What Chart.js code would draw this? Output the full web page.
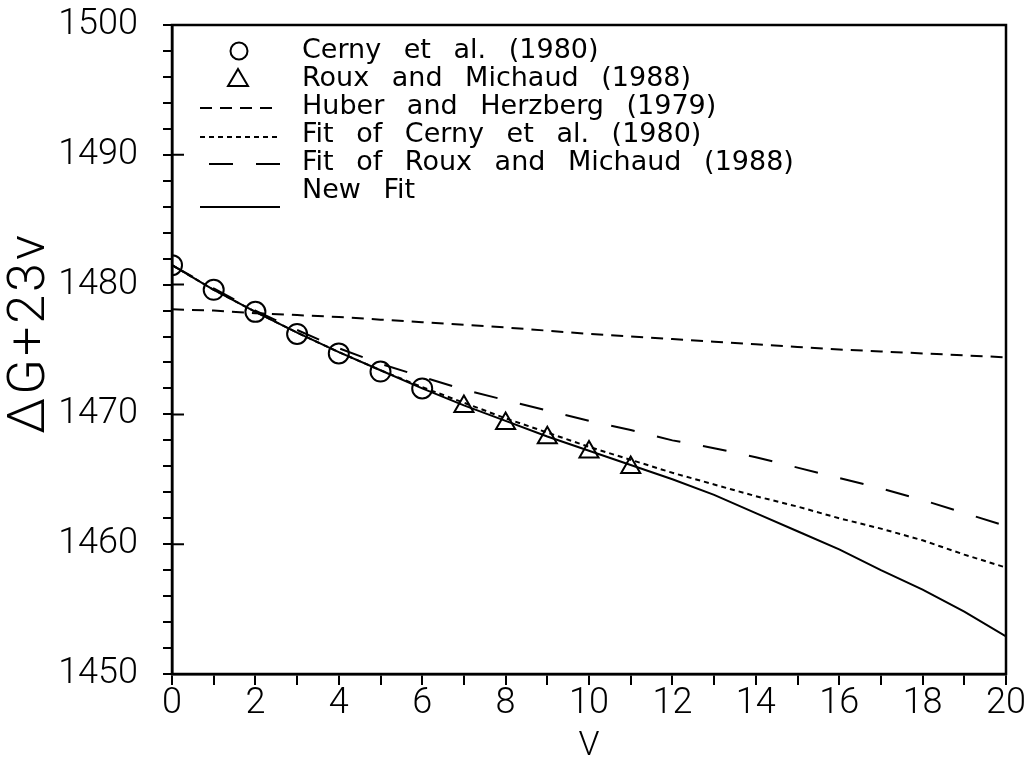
<!DOCTYPE html>
<html>
<head>
<meta charset="utf-8">
<script src="https://cdn.jsdelivr.net/npm/chart.js@4.4.1/dist/chart.umd.min.js"></script>
<style>
  html, body { margin: 0; padding: 0; background: #fff; }
  #wrap { width: 1031px; height: 764px; }
</style>
</head>
<body>
<div id="wrap"><canvas id="grafico"></canvas></div>
<script>
// vibrational quantum number v and the curves evaluated at each integer v
const vFit = [0, 1, 2, 3, 4, 5, 6, 7, 8, 9, 10, 11, 12, 13, 14, 15, 16, 17, 18, 19, 20];

// measured points
const cernyV = [0, 1, 2, 3, 4, 5, 6];
const cernyG = [1481.5, 1479.6, 1477.9, 1476.2, 1474.7, 1473.3, 1472.0];
const rouxV = [7, 8, 9, 10, 11];
const rouxG = [1470.6, 1469.3, 1468.2, 1467.1, 1465.9];

// fitted curves
const huberG = [1478.1, 1478.0, 1477.8, 1477.65, 1477.5, 1477.3, 1477.1, 1476.9, 1476.7, 1476.45, 1476.2,
                1476.0, 1475.8, 1475.6, 1475.4, 1475.2, 1475.0, 1474.85, 1474.7, 1474.55, 1474.4];
const fitCernyG = [1481.5, 1479.6, 1477.9, 1476.3, 1474.8, 1473.4, 1472.1, 1470.9, 1469.7, 1468.6, 1467.5,
                   1466.5, 1465.5, 1464.6, 1463.7, 1462.9, 1462.0, 1461.2, 1460.3, 1459.2, 1458.2];
const fitRouxG = [1481.5, 1479.7, 1478.0, 1476.5, 1475.1, 1473.9, 1472.9, 1471.9, 1471.1, 1470.3, 1469.5,
                  1468.8, 1468.0, 1467.4, 1466.7, 1465.9, 1465.1, 1464.3, 1463.4, 1462.4, 1461.4];
const newFitG = [1481.5, 1479.6, 1477.9, 1476.3, 1474.8, 1473.4, 1472.0, 1470.7, 1469.5, 1468.3, 1467.2,
                 1466.1, 1465.0, 1463.8, 1462.4, 1461.0, 1459.6, 1458.0, 1456.5, 1454.8, 1452.9];

// legend entries, in drawing order
const legendLabels = [
  'Cerny et al. (1980)',
  'Roux and Michaud (1988)',
  'Huber and Herzberg (1979)',
  'Fit of Cerny et al. (1980)',
  'Fit of Roux and Michaud (1988)',
  'New Fit'
];
const xTitle = 'V';
const yTitle = 'ΔG+23v';

const pares = (xs, ys) => xs.map((x, i) => ({ x: x, y: ys[i] }));

const tickFont = { family: "Roboto, 'DejaVu Sans Condensed', sans-serif", weight: 300, size: 36, lineHeight: 1 };

function linha(label, ys, dash) {
  return {
    label: label,
    data: pares(vFit, ys),
    showLine: true,
    borderColor: '#000',
    borderWidth: 2,
    borderDash: dash,
    pointRadius: 0,
    fill: false,
    tension: 0
  };
}

// moldura, legenda e títulos
const extras = {
  id: 'extras',
  afterDraw(chart) {
    const ctx = chart.ctx;
    const a = chart.chartArea;
    const ys = chart.scales.y;
    ctx.save();
    ctx.strokeStyle = '#000';
    ctx.lineWidth = 2.5;
    ctx.strokeRect(a.left, a.top, a.right - a.left, a.bottom - a.top);

    // traços principais do eixo y também para dentro
    ctx.lineWidth = 2;
    ctx.beginPath();
    ys.ticks.forEach(t => {
      if (t.value % 10 === 0) {
        const py = ys.getPixelForValue(t.value);
        ctx.moveTo(a.left, py);
        ctx.lineTo(a.left + 12, py);
      }
    });
    ctx.stroke();

    // legenda
    const textY = [51, 79, 107, 135, 163, 191];
    const symY = [51, 79, 108, 137, 164, 207];
    const dashes = [null, null, [12, 8], [5, 4], [24, 23], []];
    ctx.fillStyle = '#000';
    ctx.font = "27px 'DejaVu Sans', sans-serif";
    ctx.textBaseline = 'middle';
    ctx.letterSpacing = '0px';
    ctx.wordSpacing = '14px';
    legendLabels.forEach((txt, i) => {
      ctx.fillText(txt, 302, textY[i]);
    });
    ctx.wordSpacing = '0px';
    ctx.lineWidth = 2;
    ctx.beginPath();
    ctx.arc(239, symY[0], 8.5, 0, Math.PI * 2);
    ctx.stroke();
    ctx.beginPath();
    ctx.moveTo(238, symY[1] - 10);
    ctx.lineTo(248, symY[1] + 7);
    ctx.lineTo(228, symY[1] + 7);
    ctx.closePath();
    ctx.stroke();
    for (let i = 2; i < 6; i++) {
      ctx.setLineDash(dashes[i]);
      ctx.beginPath();
      ctx.moveTo(i === 4 ? 209 : 200, symY[i]);
      ctx.lineTo(280, symY[i]);
      ctx.stroke();
    }
    ctx.setLineDash([]);

    // títulos dos eixos
    ctx.font = "300 52px Roboto, 'DejaVu Sans', sans-serif";
    ctx.letterSpacing = '3px';
    ctx.textAlign = 'center';
    ctx.translate(31, 333);
    ctx.rotate(-Math.PI / 2);
    ctx.fillText(yTitle, 0, 0);
    ctx.restore();

    ctx.save();
    ctx.fillStyle = '#000';
    ctx.font = "300 34px Roboto, 'DejaVu Sans Condensed', sans-serif";
    ctx.textAlign = 'center';
    ctx.textBaseline = 'middle';
    ctx.fillText(xTitle, (a.left + a.right) / 2, 746);
    ctx.restore();
  }
};

new Chart(document.getElementById('grafico'), {
  type: 'scatter',
  data: {
    datasets: [
      linha(legendLabels[2], huberG, [12, 8]),
      linha(legendLabels[3], fitCernyG, [5, 4]),
      linha(legendLabels[4], fitRouxG, [24, 23]),
      linha(legendLabels[5], newFitG, []),
      {
        label: legendLabels[0],
        data: pares(cernyV, cernyG),
        showLine: false,
        pointStyle: 'circle',
        pointRadius: 10,
        pointBorderWidth: 2,
        pointBorderColor: '#000',
        pointBackgroundColor: 'rgba(0,0,0,0)'
      },
      {
        label: legendLabels[1],
        data: pares(rouxV, rouxG),
        showLine: false,
        pointStyle: 'triangle',
        pointRadius: 11,
        pointBorderWidth: 2,
        pointBorderColor: '#000',
        pointBackgroundColor: 'rgba(0,0,0,0)'
      }
    ]
  },
  options: {
    responsive: true,
    maintainAspectRatio: false,
    animation: false,
    layout: { padding: { top: 25, right: 25, left: 0, bottom: 0 } },
    plugins: {
      legend: { display: false },
      tooltip: { enabled: false }
    },
    scales: {
      x: {
        type: 'linear',
        min: 0,
        max: 20,
        afterFit(scale) {
          scale.height = 90;
          scale.paddingLeft = 0;
          scale.paddingRight = 0;
        },
        ticks: {
          stepSize: 1,
          autoSkip: false,
          maxRotation: 0,
          padding: 1,
          color: '#000',
          font: tickFont,
          callback: v => (v % 2 === 0 ? v : '')
        },
        grid: { drawOnChartArea: false, drawTicks: true, tickLength: 11, color: '#000', lineWidth: 2 },
        border: { display: true, color: '#000', width: 2.5 }
      },
      y: {
        min: 1450,
        max: 1500,
        afterFit(scale) {
          scale.width = 172;
          scale.paddingTop = 0;
          scale.paddingBottom = 0;
        },
        ticks: {
          stepSize: 2,
          autoSkip: false,
          padding: 25,
          color: '#000',
          font: tickFont,
          callback: v => (v % 10 === 0 ? v : '')
        },
        grid: { drawOnChartArea: false, drawTicks: true, tickLength: 9, color: '#000', lineWidth: 2 },
        border: { display: true, color: '#000', width: 2.5 }
      }
    }
  },
  plugins: [extras]
});
</script>
</body>
</html>
